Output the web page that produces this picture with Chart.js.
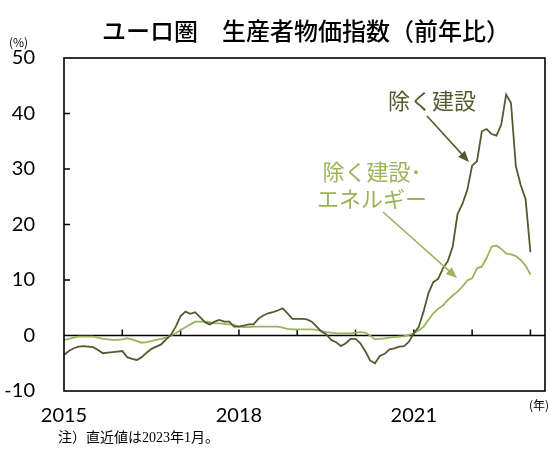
<!DOCTYPE html>
<html>
<head>
<meta charset="utf-8">
<script src="https://cdn.jsdelivr.net/npm/chart.js@4.4.1/dist/chart.umd.min.js"></script>
<style>
    html, body { margin: 0; padding: 0; background: #fff; }
    #wrap { width: 558px; height: 455px; }
</style>
</head>
<body>
<div id="wrap"><canvas id="ppiChart" width="558" height="455"></canvas></div>
<script>
// 月次データ 2015年1月〜2023年1月（前年比, %）
const years = [2015, 2016, 2017, 2018, 2019, 2020, 2021, 2022, 2023];
const exConstruction = [
    -3.5, -2.8, -2.3, -2.0, -1.9, -2.0, -2.1, -2.6, -3.2, -3.1, -3.0, -2.9,
    -2.8, -3.9, -4.2, -4.4, -3.9, -3.1, -2.4, -2.0, -1.6, -0.7, 0.1, 1.6,
    3.5, 4.3, 3.9, 4.2, 3.3, 2.4, 2.0, 2.5, 2.8, 2.5, 2.5, 1.6,
    1.6, 1.8, 2.0, 2.0, 3.0, 3.6, 4.0, 4.2, 4.5, 4.9, 4.0, 3.0,
    3.0, 3.0, 2.9, 2.5, 1.6, 0.7, 0.2, -0.8, -1.2, -1.9, -1.4, -0.6,
    -0.6, -1.4, -2.8, -4.5, -5.0, -3.7, -3.3, -2.5, -2.3, -2.0, -1.9, -1.1,
    0.4, 1.5, 4.3, 7.6, 9.6, 10.2, 12.1, 13.4, 16.0, 21.9, 23.7, 26.2,
    30.6, 31.4, 36.8, 37.2, 36.3, 36.0, 38.0, 43.4, 41.9, 30.5, 27.1, 24.6,
    15.0
];
const exConstructionEnergy = [
    -0.8, -0.6, -0.4, -0.2, -0.2, -0.2, -0.2, -0.4, -0.6, -0.7, -0.8, -0.8,
    -0.7, -0.5, -0.7, -1.0, -1.3, -1.2, -1.0, -0.8, -0.6, -0.4, 0.0, 0.4,
    1.0, 1.5, 2.0, 2.5, 2.5, 2.5, 2.4, 2.2, 2.2, 2.1, 2.0, 1.9,
    1.6, 1.5, 1.5, 1.6, 1.6, 1.6, 1.6, 1.6, 1.6, 1.4, 1.2, 1.1,
    1.1, 1.1, 1.1, 1.1, 1.0, 0.8, 0.6, 0.5, 0.4, 0.4, 0.4, 0.4,
    0.5, 0.6, 0.5, 0.0, -0.7, -0.6, -0.5, -0.4, -0.3, -0.2, -0.1, 0.1,
    0.4, 0.9, 1.6, 2.8, 4.0, 4.8, 5.4, 6.4, 7.2, 7.9, 8.8, 9.9,
    10.3, 12.1, 12.4, 14.0, 16.0, 16.2, 15.6, 14.8, 14.6, 14.3, 13.6, 12.6,
    11.0
];
// 2015年1月〜2023年4月（軸の右端）
const lastAxisMonth = 4;
const yearLabels = ['2015', '2018', '2021'];
const yMin = -10, yMax = 50, yStep = 10;

const darkColor = '#505c2f';
const lightColor = '#9cb35c';
const jpFont = "'Noto Sans CJK JP', sans-serif";
const numFont = "Lato, 'Liberation Sans', sans-serif";

// カテゴリー（年-月）
const monthLabels = [];
years.forEach(y => {
    for (let m = 1; m <= 12; m++) {
        if (y === years[years.length - 1] && m > lastAxisMonth) break;
        monthLabels.push(y + '-' + m);
    }
});

function drawArrow(ctx, x1, y1, x2, y2, color) {
    const ang = Math.atan2(y2 - y1, x2 - x1);
    const len = 11, half = 4.5;
    ctx.save();
    ctx.strokeStyle = color;
    ctx.fillStyle = color;
    ctx.lineWidth = 1.6;
    ctx.beginPath();
    ctx.moveTo(x1, y1);
    ctx.lineTo(x2 - len * Math.cos(ang), y2 - len * Math.sin(ang));
    ctx.stroke();
    ctx.beginPath();
    ctx.moveTo(x2, y2);
    ctx.lineTo(x2 - len * Math.cos(ang) + half * Math.sin(ang), y2 - len * Math.sin(ang) - half * Math.cos(ang));
    ctx.lineTo(x2 - len * Math.cos(ang) - half * Math.sin(ang), y2 - len * Math.sin(ang) + half * Math.cos(ang));
    ctx.closePath();
    ctx.fill();
    ctx.restore();
}

// 枠・ゼロ線・目盛り・注記
const decorPlugin = {
    id: 'decor',
    beforeDatasetsDraw(chart) {
        const { ctx, chartArea, scales } = chart;
        const y0 = scales.y.getPixelForValue(0);
        ctx.save();
        ctx.strokeStyle = '#000';
        ctx.lineWidth = 1.5;
        ctx.beginPath();
        ctx.moveTo(chartArea.left, y0);
        ctx.lineTo(chartArea.right, y0);
        ctx.stroke();
        // 年の目盛り（ゼロ線上）
        monthLabels.forEach((lab, i) => {
            if (lab.endsWith('-1') && i > 0) {
                const x = scales.x.getPixelForValue(i);
                ctx.beginPath();
                ctx.moveTo(x, y0);
                ctx.lineTo(x, y0 - 6);
                ctx.stroke();
            }
        });
        // 縦軸の内向き目盛り
        for (let v = yMin + yStep; v < yMax; v += yStep) {
            if (v === 0) continue;
            const y = scales.y.getPixelForValue(v);
            ctx.beginPath();
            ctx.moveTo(chartArea.left, y);
            ctx.lineTo(chartArea.left + 6, y);
            ctx.stroke();
        }
        ctx.restore();
    },
    afterDraw(chart) {
        const { ctx, chartArea } = chart;
        ctx.save();
        ctx.strokeStyle = '#000';
        ctx.lineWidth = 1.6;
        ctx.strokeRect(chartArea.left, chartArea.top, chartArea.right - chartArea.left, chartArea.bottom - chartArea.top);

        ctx.fillStyle = '#000';
        ctx.textBaseline = 'middle';
        ctx.textAlign = 'center';
        ctx.font = '500 24px ' + jpFont;
        ctx.fillText('ユーロ圏　生産者物価指数（前年比）', 306, 31);

        ctx.font = '12px ' + jpFont;
        ctx.textAlign = 'left';
        ctx.fillText('(%)', 9, 42);
        ctx.textAlign = 'right';
        ctx.fillText('(年)', 549, 405);

        ctx.textAlign = 'left';
        ctx.font = "14px 'Liberation Serif', 'Noto Sans CJK JP', serif";
        ctx.fillText('注）直近値は2023年1月。', 58, 438);

        // 系列ラベル
        ctx.textAlign = 'center';
        ctx.font = '22px ' + jpFont;
        ctx.fillStyle = darkColor;
        ctx.fillText('除く建設', 432, 101);
        ctx.fillStyle = lightColor;
        ctx.fillText('除く建設･', 372, 172);
        ctx.fillText('エネルギー', 372, 199);
        ctx.restore();

        drawArrow(ctx, 427, 116, 469, 162, darkColor);
        drawArrow(ctx, 383, 212, 457, 278, lightColor);
    }
};

document.addEventListener('DOMContentLoaded', function() {
    const ctx = document.getElementById('ppiChart').getContext('2d');
    new Chart(ctx, {
        type: 'line',
        data: {
            labels: monthLabels,
            datasets: [{
                label: '除く建設',
                data: exConstruction,
                borderColor: darkColor,
                borderWidth: 1.8,
                pointRadius: 0,
                tension: 0
            }, {
                label: '除く建設・エネルギー',
                data: exConstructionEnergy,
                borderColor: lightColor,
                borderWidth: 1.8,
                pointRadius: 0,
                tension: 0
            }]
        },
        options: {
            responsive: false,
            animation: false,
            layout: { padding: { top: 58, right: 11, left: 0, bottom: 0 } },
            plugins: {
                legend: { display: false },
                tooltip: { enabled: false }
            },
            scales: {
                x: {
                    type: 'category',
                    offset: false,
                    grid: { display: false, drawTicks: false },
                    border: { display: false },
                    afterFit(scale) { scale.height = 64; },
                    ticks: {
                        autoSkip: false,
                        maxRotation: 0,
                        padding: 13,
                        color: '#000',
                        font: { family: numFont, size: 20 },
                        callback: function(value) {
                            const lab = monthLabels[value];
                            const y = lab.split('-')[0];
                            return (lab.endsWith('-1') && yearLabels.includes(y)) ? y : '';
                        }
                    }
                },
                y: {
                    min: yMin,
                    max: yMax,
                    grid: { display: false, drawTicks: false },
                    border: { display: false },
                    afterFit(scale) { scale.width = 64; },
                    ticks: {
                        stepSize: yStep,
                        padding: 29,
                        color: '#000',
                        font: { family: numFont, size: 20 }
                    }
                }
            }
        },
        plugins: [decorPlugin]
    });
});
</script>
</body>
</html>
